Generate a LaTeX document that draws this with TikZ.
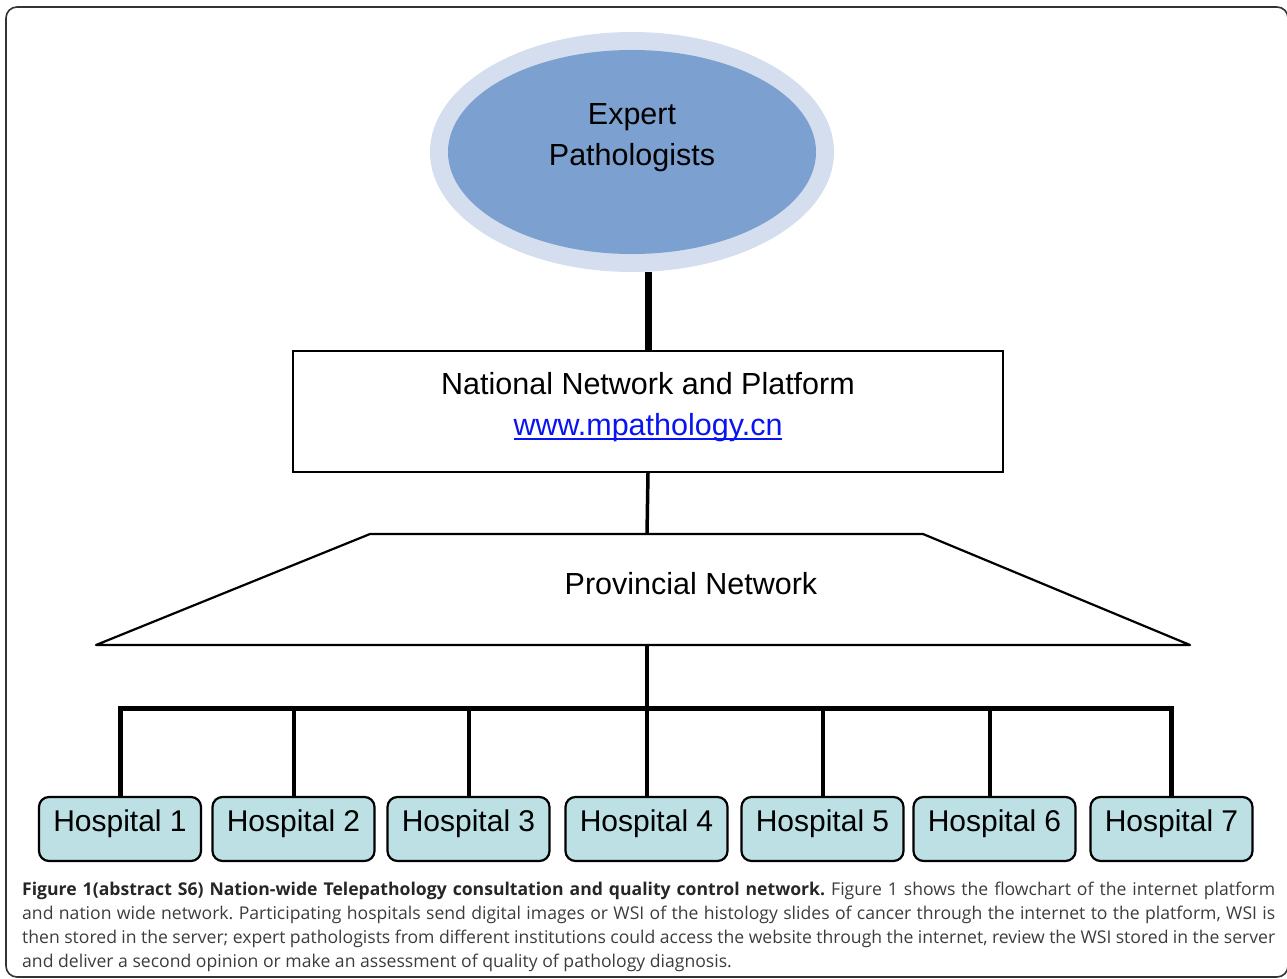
\documentclass[tikz,border=0pt]{standalone}
\usepackage{fontspec}
\setmainfont{Liberation Sans}
\newfontfamily\capfont{Open Sans}
\usetikzlibrary{shapes.geometric}
\definecolor{outerblue}{HTML}{D4DEEF}
\definecolor{innerblue}{HTML}{7CA0CF}
\definecolor{hospfill}{HTML}{BCE0E4}
\definecolor{linkblue}{HTML}{0A14F0}
\definecolor{capgray}{HTML}{3C3C3C}
\definecolor{framegray}{HTML}{333333}
\newcommand\myul[1]{\setbox0\hbox{#1}\rlap{\rule[-5pt]{\wd0}{1.6pt}}\box0}
\tikzset{
  bigtext/.style={font=\fontsize{30.5}{41}\selectfont, inner sep=0},
  hosp/.style={draw=black, line width=2.2pt, fill=hospfill, rounded corners=10pt,
    minimum width=162pt, inner sep=0, text height=34pt, text depth=30pt,
    font=\fontsize{30}{36}\selectfont},
  wire/.style={draw=black, line width=4pt},
}
\begin{document}
\begin{tikzpicture}[x=1pt,y=-1pt]
\useasboundingbox (0,0) rectangle (1287,979);
% outer frame
\draw[framegray, line width=1.6pt, rounded corners=11pt] (6,7) rectangle (1288,977);

% expert ellipse
\node[ellipse, fill=outerblue, minimum width=404pt, minimum height=240pt, inner sep=0] (ell) at (632,152) {};
\node[ellipse, fill=innerblue, minimum width=368pt, minimum height=204pt, inner sep=0] (ellin) at (632,152) {};
\node[bigtext, align=center, anchor=base] (experttxt) at (632,165) {Expert\\Pathologists};

% national network box
\node[draw=black, line width=2pt, minimum width=710pt, minimum height=121pt, inner sep=0] (nat) at (648,411.5) {};
\node[bigtext, anchor=base] (nattxt1) at (648,394) {National Network and Platform};
\node[bigtext, anchor=base, text=linkblue] (nattxt2) at (648,435) {\myul{www.mpathology.cn}};

% provincial network trapezium
\coordinate (ptl) at (370,534);
\coordinate (ptr) at (923,534);
\coordinate (pbr) at (1190,645);
\coordinate (pbl) at (96,645);
\coordinate (provtop) at (647,534);
\coordinate (provbot) at (647,645);
\draw[black, line width=2.2pt, line join=round] (ptl) -- (ptr) -- (pbr) -- (pbl) -- cycle;
\node[bigtext, anchor=base] (provtxt) at (691,594) {Provincial Network};

% hospitals
\node[hosp] (h1) at (120,829) {Hospital 1};
\node[hosp] (h2) at (293.5,829) {Hospital 2};
\node[hosp] (h3) at (468.5,829) {Hospital 3};
\node[hosp] (h4) at (646.5,829) {Hospital 4};
\node[hosp] (h5) at (822.5,829) {Hospital 5};
\node[hosp] (h6) at (994.5,829) {Hospital 6};
\node[hosp] (h7) at (1171.5,829) {Hospital 7};

\coordinate (bus) at (647,708);

% connectors
\draw[black, line width=7pt] (nat.north |- ell.south) -- (nat.north);
\draw[black, line width=3.5pt] (nat.south) -- (provtop);
\draw[wire] (provbot) -- (bus);
\draw[wire, line width=5pt, line join=miter] (h1.north) |- (bus) -| (h7.north);
\draw[wire] (h2.north) -- (h2.north |- bus);
\draw[wire] (h3.north) -- (h3.north |- bus);
\draw[wire] (h4.north) -- (h4.north |- bus);
\draw[wire] (h5.north) -- (h5.north |- bus);
\draw[wire] ([xshift=-5pt]h6.north) -- ([xshift=-5pt]h6.north |- bus);

% caption
\node[anchor=base west, inner sep=0, text width=1253pt, align=justify, text=capgray,
      font=\capfont\fontsize{17.6}{24}\selectfont\frenchspacing] (caption) at (22,895)
{\textbf{\color{black!85}Figure 1(abstract S6) Nation-wide Telepathology consultation and quality control network.} Figure 1 shows the flowchart of the internet platform\linebreak
and nation wide network. Participating hospitals send digital images or WSI of the histology slides of cancer through the internet to the platform, WSI is\linebreak
then stored in the server; expert pathologists from different institutions could access the website through the internet, review the WSI stored in the server\linebreak
and deliver a second opinion or make an assessment of quality of pathology diagnosis.};
\end{tikzpicture}
\end{document}
